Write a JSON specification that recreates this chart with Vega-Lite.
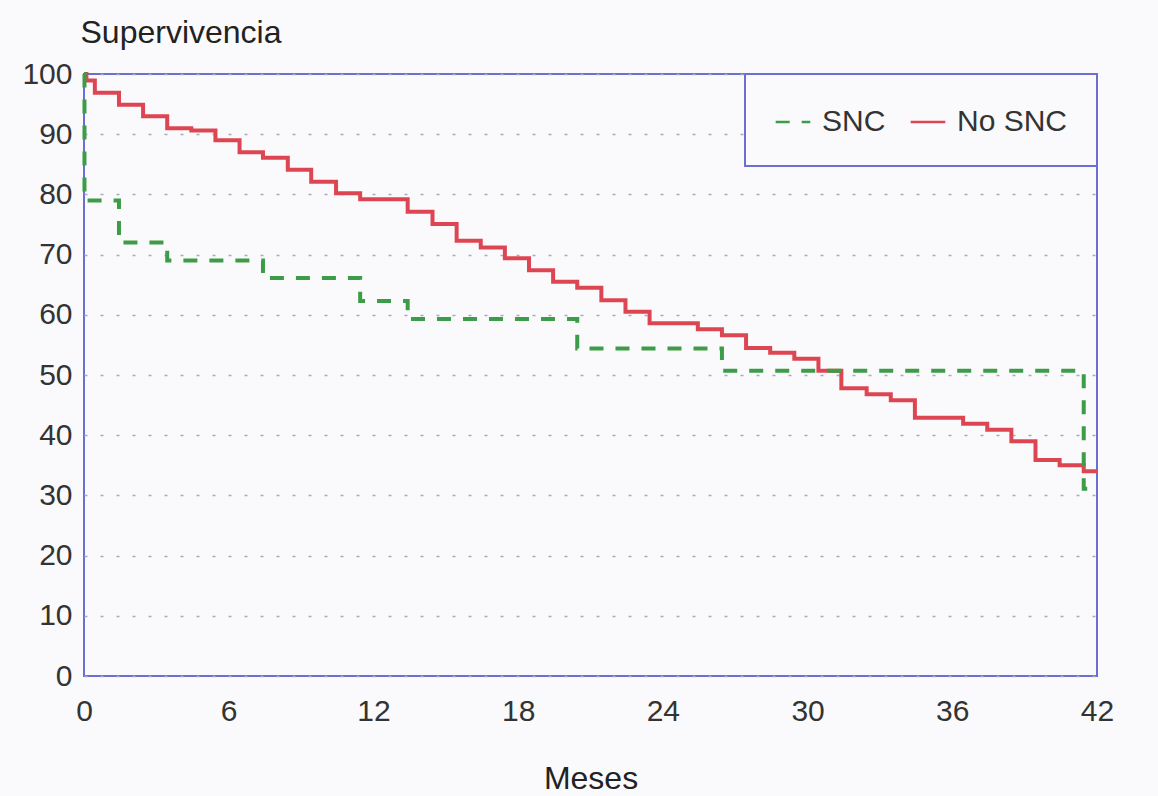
{
  "$schema": "https://vega.github.io/schema/vega-lite/v6.json",
  "width": 1013,
  "height": 602,
  "autosize": "none",
  "padding": {"left": 84, "top": 74, "right": 61, "bottom": 120},
  "background": "#fafafc",
  "config": {
    "view": {"stroke": "#6b6fd2", "strokeWidth": 2, "fill": "#fafafc"},
    "font": "Liberation Sans"
  },
  "data": {
    "values": [
      {"grupo": "No SNC", "mes": 0, "s": 100},
      {"grupo": "No SNC", "mes": 0.1, "s": 98.9},
      {"grupo": "No SNC", "mes": 0.45, "s": 96.9},
      {"grupo": "No SNC", "mes": 1.45, "s": 94.9},
      {"grupo": "No SNC", "mes": 2.45, "s": 93.0},
      {"grupo": "No SNC", "mes": 3.45, "s": 91.0},
      {"grupo": "No SNC", "mes": 4.45, "s": 90.6},
      {"grupo": "No SNC", "mes": 5.45, "s": 89.0},
      {"grupo": "No SNC", "mes": 6.45, "s": 87.0},
      {"grupo": "No SNC", "mes": 7.42, "s": 86.1},
      {"grupo": "No SNC", "mes": 8.45, "s": 84.1},
      {"grupo": "No SNC", "mes": 9.42, "s": 82.1},
      {"grupo": "No SNC", "mes": 10.45, "s": 80.2},
      {"grupo": "No SNC", "mes": 11.45, "s": 79.2},
      {"grupo": "No SNC", "mes": 13.42, "s": 77.1},
      {"grupo": "No SNC", "mes": 14.45, "s": 75.1},
      {"grupo": "No SNC", "mes": 15.45, "s": 72.3},
      {"grupo": "No SNC", "mes": 16.45, "s": 71.2},
      {"grupo": "No SNC", "mes": 17.45, "s": 69.4},
      {"grupo": "No SNC", "mes": 18.45, "s": 67.4},
      {"grupo": "No SNC", "mes": 19.45, "s": 65.5},
      {"grupo": "No SNC", "mes": 20.45, "s": 64.5},
      {"grupo": "No SNC", "mes": 21.45, "s": 62.4},
      {"grupo": "No SNC", "mes": 22.45, "s": 60.5},
      {"grupo": "No SNC", "mes": 23.45, "s": 58.6},
      {"grupo": "No SNC", "mes": 25.45, "s": 57.6},
      {"grupo": "No SNC", "mes": 26.45, "s": 56.6},
      {"grupo": "No SNC", "mes": 27.45, "s": 54.5},
      {"grupo": "No SNC", "mes": 28.45, "s": 53.7},
      {"grupo": "No SNC", "mes": 29.45, "s": 52.7},
      {"grupo": "No SNC", "mes": 30.45, "s": 50.7},
      {"grupo": "No SNC", "mes": 31.4, "s": 47.8},
      {"grupo": "No SNC", "mes": 32.45, "s": 46.8},
      {"grupo": "No SNC", "mes": 33.45, "s": 45.8},
      {"grupo": "No SNC", "mes": 34.45, "s": 42.9},
      {"grupo": "No SNC", "mes": 36.45, "s": 41.9},
      {"grupo": "No SNC", "mes": 37.45, "s": 40.9},
      {"grupo": "No SNC", "mes": 38.45, "s": 39.0},
      {"grupo": "No SNC", "mes": 39.45, "s": 35.9},
      {"grupo": "No SNC", "mes": 40.45, "s": 35.0},
      {"grupo": "No SNC", "mes": 41.45, "s": 34.0},
      {"grupo": "No SNC", "mes": 42, "s": 34.0},
      {"grupo": "SNC", "mes": 0, "s": 100},
      {"grupo": "SNC", "mes": 0.02, "s": 79.0},
      {"grupo": "SNC", "mes": 1.45, "s": 72.0},
      {"grupo": "SNC", "mes": 3.45, "s": 69.0},
      {"grupo": "SNC", "mes": 7.42, "s": 66.1},
      {"grupo": "SNC", "mes": 11.45, "s": 62.3},
      {"grupo": "SNC", "mes": 13.42, "s": 59.3},
      {"grupo": "SNC", "mes": 20.45, "s": 54.4},
      {"grupo": "SNC", "mes": 26.45, "s": 50.7},
      {"grupo": "SNC", "mes": 41.45, "s": 31.1},
      {"grupo": "SNC", "mes": 42, "s": 31.1}
    ]
  },
  "mark": {"type": "line", "interpolate": "step-after", "strokeWidth": 4, "clip": false},
  "encoding": {
    "x": {
      "field": "mes", "type": "quantitative",
      "scale": {"domain": [0, 42], "nice": false, "zero": false},
      "axis": {
        "values": [0, 6, 12, 18, 24, 30, 36, 42],
        "grid": false, "domain": false, "ticks": false,
        "labelFontSize": 30, "labelColor": "#333333", "labelPadding": 20,
        "labelFlush": false,
        "title": "Meses", "titleFontSize": 32, "titleFontWeight": "normal",
        "titleColor": "#222222", "titleY": 102, "titleBaseline": "middle"
      }
    },
    "y": {
      "field": "s", "type": "quantitative",
      "scale": {"domain": [0, 100], "nice": false},
      "axis": {
        "values": [0, 10, 20, 30, 40, 50, 60, 70, 80, 90, 100],
        "grid": true, "gridDash": [3, 13], "gridColor": "#a9a9bb", "gridWidth": 1.5,
        "domain": false, "ticks": false,
        "labelFontSize": 30, "labelColor": "#333333", "labelPadding": 12,
        "labelFlush": false,
        "title": "Supervivencia", "titleFontSize": 32, "titleFontWeight": "normal",
        "titleColor": "#222222", "titleAngle": 0, "titleAlign": "left",
        "titleBaseline": "middle", "titleX": -4, "titleY": -42
      }
    },
    "color": {
      "field": "grupo", "type": "nominal",
      "scale": {"domain": ["SNC", "No SNC"], "range": ["#3d9c47", "#de4553"]},
      "legend": {
        "title": null, "orient": "top-right", "offset": 0, "direction": "horizontal",
        "strokeColor": "#6b6fd2", "padding": 29,
        "symbolType": "stroke", "symbolSize": 1200, "symbolStrokeWidth": 2.5,
        "labelFontSize": 30, "labelColor": "#333333", "labelOffset": 10,
        "columnPadding": 19, "fillColor": "#fafafc",
        "encode": {"legend": {"update": {"strokeWidth": {"value": 2}}}}
      }
    },
    "strokeDash": {
      "field": "grupo", "type": "nominal",
      "scale": {"domain": ["SNC", "No SNC"], "range": [[14, 12], [1, 0]]},
      "legend": null
    }
  }
}
